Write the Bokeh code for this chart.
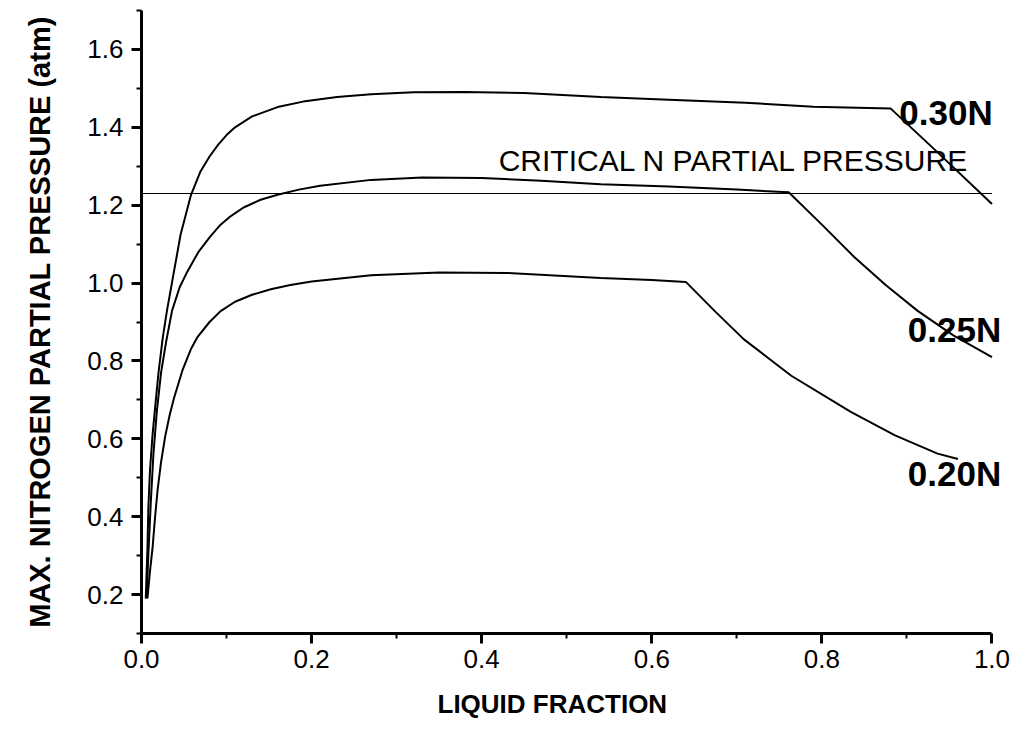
from bokeh.plotting import figure
from bokeh.models import Range1d, FixedTicker, PrintfTickFormatter, Label, Title
from bokeh.embed import file_html
from bokeh.resources import INLINE

# ---- data ----
x_030 = [0.005, 0.007, 0.008, 0.010, 0.013, 0.016, 0.020, 0.025, 0.030, 0.036, 0.046, 0.058, 0.069,
         0.080, 0.090, 0.10, 0.11, 0.13, 0.16, 0.19, 0.23, 0.27, 0.32, 0.38, 0.45, 0.54, 0.62, 0.71, 0.79,
         0.881, 0.932, 1.0]
y_030 = [0.19, 0.32, 0.42, 0.52, 0.61, 0.68, 0.77, 0.86, 0.93, 1.003, 1.125, 1.225, 1.285,
         1.325, 1.355, 1.38, 1.40, 1.428, 1.452, 1.466, 1.478, 1.485, 1.49, 1.491, 1.488, 1.478, 1.471, 1.463,
         1.453, 1.448, 1.344, 1.203]

x_025 = [0.006, 0.008, 0.011, 0.014, 0.018, 0.023, 0.029, 0.036, 0.045, 0.054, 0.067, 0.081, 0.093,
         0.105, 0.12, 0.14, 0.16, 0.185, 0.21, 0.27, 0.33, 0.40, 0.47, 0.54, 0.62, 0.70, 0.761, 0.80, 0.838,
         0.875, 0.913, 0.955, 1.0]
y_025 = [0.19, 0.30, 0.44, 0.56, 0.67, 0.77, 0.85, 0.93, 0.99, 1.03, 1.08, 1.12, 1.15,
         1.172, 1.194, 1.214, 1.227, 1.240, 1.250, 1.265, 1.271, 1.270, 1.263, 1.254, 1.248, 1.240, 1.233,
         1.15, 1.067, 0.995, 0.928, 0.865, 0.81]

x_020 = [0.007, 0.010, 0.013, 0.016, 0.019, 0.023, 0.028, 0.033, 0.038, 0.048, 0.058, 0.066, 0.08,
         0.093, 0.11, 0.13, 0.152, 0.175, 0.2, 0.27, 0.35, 0.43, 0.54, 0.60, 0.64, 0.675, 0.708, 0.764,
         0.834, 0.886, 0.936, 0.96]
y_020 = [0.19, 0.26, 0.32, 0.40, 0.47, 0.54, 0.608, 0.66, 0.703, 0.775, 0.83, 0.862, 0.90,
         0.928, 0.952, 0.970, 0.984, 0.995, 1.004, 1.020, 1.027, 1.026, 1.013, 1.008, 1.003, 0.926, 0.856,
         0.762, 0.669, 0.609, 0.562, 0.548]

critical_x = [0.0, 1.0]
critical_y = [1.23, 1.23]

x_major = [0.0, 0.2, 0.4, 0.6, 0.8, 1.0]
x_minor = [0.1, 0.3, 0.5, 0.7, 0.9]
y_major = [0.2, 0.4, 0.6, 0.8, 1.0, 1.2, 1.4, 1.6]
y_minor = [0.1, 0.3, 0.5, 0.7, 0.9, 1.1, 1.3, 1.5, 1.7]

series_labels = ["0.30N", "0.25N", "0.20N"]
critical_label = "CRITICAL N PARTIAL PRESSURE"
x_title = "LIQUID FRACTION"
y_title = "MAX. NITROGEN PARTIAL PRESSURE (atm)"

# ---- figure ----
p = figure(width=1027, height=734, output_backend="svg", toolbar_location=None,
           x_range=Range1d(0, 1.03), y_range=Range1d(0.1, 1.7),
           min_border_left=141, min_border_right=10, min_border_top=10, min_border_bottom=100)
p.outline_line_color = None
p.background_fill_color = "white"
p.border_fill_color = "white"
p.xgrid.visible = False
p.ygrid.visible = False

for xs, ys in [(x_030, y_030), (x_025, y_025), (x_020, y_020)]:
    p.line(xs, ys, line_color="black", line_width=2)
p.line(critical_x, critical_y, line_color="black", line_width=1.2)

SANS = "Liberation Sans"

for ax, maj, mnr in [(p.xaxis[0], x_major, x_minor), (p.yaxis[0], y_major, y_minor)]:
    ax.ticker = FixedTicker(ticks=maj, minor_ticks=mnr)
    ax.formatter = PrintfTickFormatter(format="%.1f")
    ax.axis_line_width = 3
    ax.axis_line_color = "black"
    ax.major_tick_line_width = 3
    ax.major_tick_line_color = "black"
    ax.major_tick_out = 10
    ax.major_tick_in = 0
    ax.minor_tick_line_width = 2
    ax.minor_tick_line_color = "black"
    ax.minor_tick_out = 5
    ax.minor_tick_in = 0
    ax.major_label_text_font = SANS
    ax.major_label_text_font_size = "26px"
    ax.major_label_text_color = "black"
    ax.axis_label_text_font = SANS
    ax.axis_label_text_font_style = "bold"
    ax.axis_label_text_color = "black"

p.xaxis[0].bounds = (0, 1)
p.xaxis[0].major_label_standoff = 6
p.yaxis[0].axis_label = y_title
p.yaxis[0].axis_label_text_font_size = "29px"
p.yaxis[0].axis_label_standoff = 28
p.yaxis[0].major_label_standoff = 8

# x-axis title below the axis, slightly left of centre as in the reference
p.add_layout(Title(text=x_title, align="left", offset=296, standoff=32,
                   text_font=SANS, text_font_style="bold", text_font_size="26px",
                   text_color="black"), "below")

lab_pos = [(0.891, 1.439), (0.901, 0.88), (0.901, 0.51)]
for t, (lx, ly) in zip(series_labels, lab_pos):
    p.add_layout(Label(x=lx, y=ly, text=t, text_font=SANS, text_font_style="bold",
                       text_font_size="35px", text_color="black",
                       text_align="left", text_baseline="alphabetic"))
p.add_layout(Label(x=0.42, y=1.316, text=critical_label, text_font=SANS,
                   text_font_size="30px", text_color="black",
                   text_align="left", text_baseline="alphabetic"))

open("out.html", "w").write(file_html(p, INLINE))
